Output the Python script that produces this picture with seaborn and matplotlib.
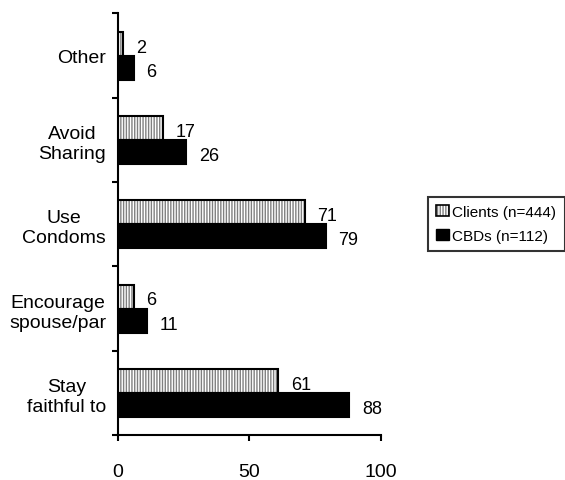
import matplotlib
matplotlib.use('Agg')
import matplotlib.pyplot as plt
import seaborn as sns
import pandas as pd
from matplotlib.patches import Rectangle, Patch
from matplotlib.legend_handler import HandlerTuple

categories = ['Other', 'Avoid\nSharing', 'Use\nCondoms', 'Encourage\nspouse/par', 'Stay\nfaithful to']
series_names = ['Clients (n=444)', 'CBDs (n=112)']
clients = [2, 17, 71, 6, 61]
cbds = [6, 26, 79, 11, 88]
x_ticks = [0, 50, 100]

sns.set_style('white')
plt.rcParams['font.family'] = ['Liberation Sans', 'DejaVu Sans']
plt.rcParams['hatch.color'] = '#808080'
plt.rcParams['hatch.linewidth'] = 1.0
for k in ['text.color', 'axes.labelcolor', 'xtick.color', 'ytick.color', 'axes.edgecolor']:
    plt.rcParams[k] = 'black'

df = pd.DataFrame({
    'category': categories * 2,
    'series': [series_names[0]] * len(categories) + [series_names[1]] * len(categories),
    'value': clients + cbds,
})

fig = plt.figure(figsize=(5.65, 4.81), dpi=100)
ax = fig.add_axes([0.2088, 0.0936, 0.4655, 0.8763])
sns.barplot(data=df, y='category', x='value', hue='series', order=categories,
            hue_order=series_names, palette=['white', 'black'], width=0.57,
            dodge=True, ax=ax, legend=False, saturation=1, edgecolor='black',
            linewidth=1.5, errorbar=None)

HATCH = '||||||'
# Clients bars: gray vertical hatch with black outline
for p in ax.containers[0]:
    p.set_hatch(HATCH)
    p.set_edgecolor('#808080')
    p.set_linewidth(0)
    ax.add_patch(Rectangle((p.get_x(), p.get_y()), p.get_width(), p.get_height(),
                           fill=False, edgecolor='black', linewidth=1.5, zorder=p.get_zorder() + 0.1))

for cont in ax.containers:
    texts = ax.bar_label(cont, padding=9, fontsize=13)
    for t in texts:
        t.xyann = (9, -2.5)
        t.set_clip_on(False)

ax.set_xlim(0, 100)
ax.set_ylim(len(categories) - 0.5, -0.5)
ax.set_xticks(x_ticks)
ax.set_xticklabels([str(v) for v in x_ticks], fontsize=14)
ax.set_yticks(range(len(categories)))
ax.set_yticklabels(categories, fontsize=14)
for lab in ax.get_yticklabels():
    lab.set_multialignment('center')
    lab.set_linespacing(1.25)
ax.set_yticks([i - 0.5 for i in range(len(categories) + 1)], minor=True)
ax.tick_params(axis='y', which='major', length=0, pad=8.5)
ax.tick_params(axis='y', which='minor', left=True, length=4.5, width=1.5, direction='out')
ax.tick_params(axis='x', which='major', bottom=True, length=4.5, width=1.5, direction='out', pad=16)
ax.set_xlabel('')
ax.set_ylabel('')
for s in ['top', 'right']:
    ax.spines[s].set_visible(False)
for s in ['left', 'bottom']:
    ax.spines[s].set_linewidth(1.5)
    ax.spines[s].set_color('black')

h_clients = (Patch(facecolor='white', edgecolor='#808080', hatch=HATCH, linewidth=0),
             Patch(fill=False, edgecolor='black', linewidth=1.2))
h_cbds = Patch(facecolor='black', edgecolor='black')
leg = ax.legend([h_clients, h_cbds], series_names, loc='center left',
                bbox_to_anchor=(428 / 565, 1 - 225 / 481), bbox_transform=fig.transFigure,
                borderaxespad=0, fontsize=11, handlelength=0.8, handleheight=0.75,
                handletextpad=0.25, borderpad=0.55, labelspacing=0.65, fancybox=False,
                frameon=True, handler_map={tuple: HandlerTuple(ndivide=1)})
leg.get_frame().set_edgecolor('black')
leg.get_frame().set_linewidth(1.5)

fig.savefig('out.png', dpi=100)
